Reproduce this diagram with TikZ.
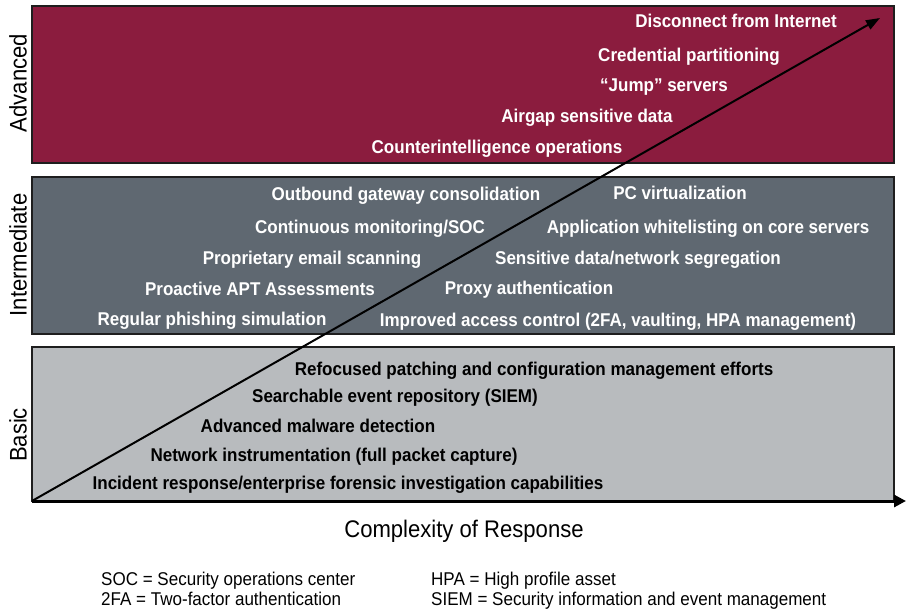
\documentclass[tikz,border=0pt]{standalone}
\usepackage{fontspec}
\setmainfont[FakeStretch=0.92]{Liberation Sans}
\usetikzlibrary{arrows.meta}
\definecolor{advred}{HTML}{8B1C3E}
\definecolor{midgray}{HTML}{5F6871}
\definecolor{lightgray}{HTML}{B8BBBE}
\definecolor{edge}{HTML}{1E1E1E}

\begin{document}
\begin{tikzpicture}[x=1pt,y=-1pt,
  band/.style={draw=edge, line width=2pt},
  item/.style={font=\fontsize{18.5}{20}\selectfont\bfseries, inner sep=0pt, anchor=base},
  wt/.style={item, text=white},
  bk/.style={item, text=black},
  tier/.style={font=\fontsize{24}{26}\selectfont, rotate=90, inner sep=0pt},
  legend/.style={font=\fontsize{18.5}{19}\selectfont, anchor=base west, inner sep=0pt},
  axis/.style={line width=3pt, -{Triangle[length=12pt,width=12pt]}},
  growth/.style={line width=2pt, -{Triangle[length=14pt,width=10pt]}},
]
\useasboundingbox (0,0) rectangle (906,610);

% tier bands
\fill[advred]    (32,6)   rectangle (894,163);
\draw[band]      (32,6)   rectangle (894,163);
\fill[midgray]   (32,177) rectangle (894,334);
\draw[band]      (32,177) rectangle (894,334);
\fill[lightgray] (32,347) rectangle (894,501);
\draw[band]      (32,347) rectangle (894,501);

% tier labels
\node[tier] (tadv) at (18,83)  {Advanced};
\node[tier] (tint) at (18,255) {Intermediate};
\node[tier] (tbas) at (18,435) {Basic};

% advanced measures
\node[wt] (a1) at (736,28)    {Disconnect from Internet};
\node[wt] (a2) at (689,61.5)  {Credential partitioning};
\node[wt] (a3) at (664,92)    {“Jump” servers};
\node[wt] (a4) at (587,123)   {Airgap sensitive data};
\node[wt] (a5) at (497,153.5) {Counterintelligence operations};

% intermediate measures, left column
\node[wt] (i1) at (406,200)   {Outbound gateway consolidation};
\node[wt] (i2) at (370,233)   {Continuous monitoring/SOC};
\node[wt] (i3) at (312,264.5) {Proprietary email scanning};
\node[wt] (i4) at (260,295.5) {Proactive APT Assessments};
\node[wt] (i5) at (212,325.5) {Regular phishing simulation};
% intermediate measures, right column
\node[wt] (j1) at (680,199.5) {PC virtualization};
\node[wt] (j2) at (708,233.5) {Application whitelisting on core servers};
\node[wt] (j3) at (638,264.5) {Sensitive data/network segregation};
\node[wt] (j4) at (529,294.5) {Proxy authentication};
\node[wt] (j5) at (618,326.5) {Improved access control (2FA, vaulting, HPA management)};

% basic measures
\node[bk] (b1) at (534,375) {Refocused patching and configuration management efforts};
\node[bk] (b2) at (395,402) {Searchable event repository (SIEM)};
\node[bk] (b3) at (318,432) {Advanced malware detection};
\node[bk] (b4) at (334,461) {Network instrumentation (full packet capture)};
\node[bk] (b5) at (348,489) {Incident response/enterprise forensic investigation capabilities};

% axes
\coordinate (origin) at (32,501);
\coordinate (xend)   at (906,501);
\coordinate (tip)    at (880,18);
\draw[axis]   (origin) -- (xend);
\draw[growth] (origin) -- (tip);

\node[font=\fontsize{24}{26}\selectfont, anchor=base, inner sep=0pt] (xlab) at (464,537) {Complexity of Response};

% abbreviations
\node[legend] (l1) at (101,585) {SOC = Security operations center};
\node[legend] (l2) at (101,605) {2FA = Two-factor authentication};
\node[legend] (l3) at (431,585) {HPA = High profile asset};
\node[legend] (l4) at (431,605) {SIEM = Security information and event management};
\end{tikzpicture}
\end{document}
